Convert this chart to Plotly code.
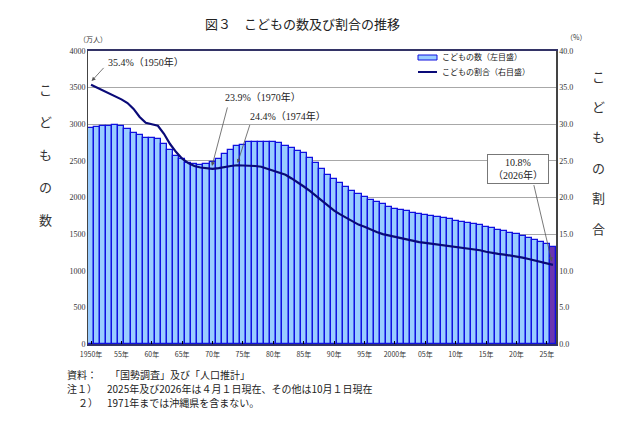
import plotly.graph_objects as go

# こどもの数（万人）と割合（%）, 1950-2026
years = list(range(1950, 2027))
kodomo_count = [
  2943, 2966, 2971, 2975, 2989, 2980, 2934, 2884, 2853, 2810,
  2807, 2802, 2729, 2652, 2560, 2523, 2470, 2452, 2443, 2452,
  2482, 2525, 2589, 2648, 2699, 2722, 2753, 2761, 2761, 2753,
  2751, 2745, 2707, 2675, 2638, 2603, 2538, 2465, 2388, 2311,
  2249, 2204, 2144, 2092, 2043, 2001, 1964, 1937, 1906, 1874,
  1847, 1828, 1810, 1791, 1774, 1759, 1744, 1729, 1718, 1701,
  1684, 1671, 1655, 1639, 1623, 1595, 1578, 1559, 1542, 1521,
  1503, 1478, 1450, 1417, 1388, 1366, 1329,
]
kodomo_ratio = [
  35.4, 35.0, 34.6, 34.3, 33.9, 33.4, 32.9, 32.1, 31.0, 30.2,
  30.0, 29.8, 28.7, 27.3, 26.2, 25.3, 24.7, 24.3, 24.1, 24.0,
  23.9, 24.0, 24.2, 24.3, 24.4, 24.4, 24.4, 24.3, 24.2, 23.9,
  23.6, 23.4, 23.1, 22.6, 22.1, 21.5, 20.9, 20.2, 19.5, 18.8,
  18.2, 17.7, 17.2, 16.7, 16.3, 16.0, 15.6, 15.3, 15.0, 14.8,
  14.6, 14.4, 14.2, 14.0, 13.9, 13.8, 13.7, 13.6, 13.5, 13.3,
  13.2, 13.1, 13.0, 12.9, 12.8, 12.6, 12.4, 12.3, 12.2, 12.1,
  11.9, 11.8, 11.6, 11.4, 11.3, 11.1, 10.8,
]
tick_years = list(range(1950, 2026, 5))
tick_labels = ['1950年', '55年', '60年', '65年', '70年', '75年', '80年', '85年',
               '90年', '95年', '2000年', '05年', '10年', '15年', '20年', '25年']

# plot area in page pixels (640x426 window); page body has an 8px margin
L, R, T, B = 88, 556, 51, 344
OFF = 8
W, H = 640 - 2 * OFF, 426 - 2 * OFF
FONT = 'Liberation Serif, Noto Sans CJK JP'
JP = 'Noto Sans CJK JP'

def px(x, y):
  """page pixel position -> paper coords"""
  return (x - L) / (R - L), (B - y) / (B - T)

bar_colors = ['#99ccff'] * (len(years) - 1) + ['#6a35b0']

fig = go.Figure()
fig.add_trace(go.Bar(
  x=years, y=kodomo_count, name='こどもの数（左目盛）',
  marker=dict(color=bar_colors, line=dict(color='#1010e0', width=1.3)),
  width=1.0,
))
fig.add_trace(go.Scatter(
  x=years, y=kodomo_ratio, name='こどもの割合（右目盛）', yaxis='y2',
  mode='lines', line=dict(color='#0a0a78', width=2.2),
))

annotations = []
shapes = []

# arrows (empty text, tail -> tip in data coords)
arrows = [
  ((1952.3, 37.9), (1950.1, 35.9)),
  ((1972.5, 32.5), (1969.9, 24.3)),
  ((1976.2, 30.1), (1974.1, 24.7)),
  ((2022.8, 21.9), (2025.8, 11.3)),
]
for (tx, ty), (hx, hy) in arrows:
  annotations.append(dict(
    x=hx, y=hy, xref='x', yref='y2', ax=tx, ay=ty, axref='x', ayref='y2',
    text='', showarrow=True, arrowhead=2, arrowsize=1, arrowwidth=0.8,
    arrowcolor='#555555'))

def label(txt, x, y, size, family=JP, xanchor='left', color='#222222', **kw):
  xp, yp = px(x, y)
  annotations.append(dict(x=xp, y=yp, xref='paper', yref='paper', text=txt,
    showarrow=False, xanchor=xanchor, yanchor='middle',
    font=dict(family=family, size=size, color=color), **kw))

label('35.4%（1950年）', 106, 62, 10, FONT)
label('23.9%（1970年）', 223, 97, 10, FONT)
label('24.4%（1974年）', 248, 116, 10, FONT)
label('10.8%<br>（2026年）', 518, 169, 10, FONT, xanchor='center', bgcolor='white',
      bordercolor='#777777', borderwidth=1, borderpad=2, width=56)

# vertical axis titles, one character per line
for i, ch in enumerate('こどもの数'):
  label(ch, 45, 89 + i * 32.5, 13, xanchor='center', color='#333333')
for i, ch in enumerate('こどもの割合'):
  label(ch, 598, 76 + i * 30.4, 13, xanchor='center', color='#333333')

# units
label('（万人）', 93, 39, 7, xanchor='center', color='#333333')
label('（%）', 576, 37, 7, xanchor='center', color='#333333')

# title
label('図３　こどもの数及び割合の推移', 302, 24, 13, xanchor='center')

# legend drawn by hand (wide flat swatch like the original)
x0, y0 = px(418, 55)
x1, y1 = px(437, 60)
shapes.append(dict(type='rect', xref='paper', yref='paper', x0=x0, x1=x1, y0=y0, y1=y1,
                   fillcolor='#99ccff', line=dict(color='#1010e0', width=1)))
x0, y0 = px(418, 72)
x1, _ = px(437, 72)
shapes.append(dict(type='line', xref='paper', yref='paper', x0=x0, x1=x1, y0=y0, y1=y0,
                   line=dict(color='#0a0a78', width=2)))
label('こどもの数（左目盛）', 440, 57, 8)
label('こどもの割合（右目盛）', 440, 72, 8)

# notes
label('資料：', 65, 374, 10)
label('「国勢調査」及び「人口推計」', 108, 374, 10)
label('注１）', 65, 388, 10)
label('2025年及び2026年は４月１日現在、その他は10月１日現在', 105, 388, 10)
label('２）', 76, 402, 10)
label('1971年までは沖縄県を含まない。', 105, 402, 10)

fig.update_layout(
  width=W, height=H,
  margin=dict(l=L - OFF, r=W - (R - OFF), t=T - OFF, b=H - (B - OFF)),
  paper_bgcolor='white', plot_bgcolor='white',
  bargap=0, barmode='overlay',
  showlegend=False,
  xaxis=dict(range=[1949.5, 2026.5], tickvals=tick_years, ticktext=tick_labels,
             ticks='inside', ticklen=3, tickcolor='#000000', ticklabelstandoff=3,
             showgrid=False, showline=True, linecolor='#333366', linewidth=1.5, mirror=True,
             tickfont=dict(family=JP, size=7, color='#333333')),
  yaxis=dict(range=[0, 4000], dtick=500, showgrid=True, gridcolor='#a8a8a8', gridwidth=1,
             showline=True, linecolor='#444444', linewidth=1, ticks='',
             tickfont=dict(family=FONT, size=8, color='#333333'), zeroline=False),
  yaxis2=dict(range=[0, 40], dtick=5, tickformat='.1f', overlaying='y', side='right',
              showgrid=False, showline=True, linecolor='#444444', linewidth=1.5, ticks='',
              tickfont=dict(family=FONT, size=8, color='#333333'), zeroline=False),
  annotations=annotations,
  shapes=shapes,
)

fig.write_html('out.html')
